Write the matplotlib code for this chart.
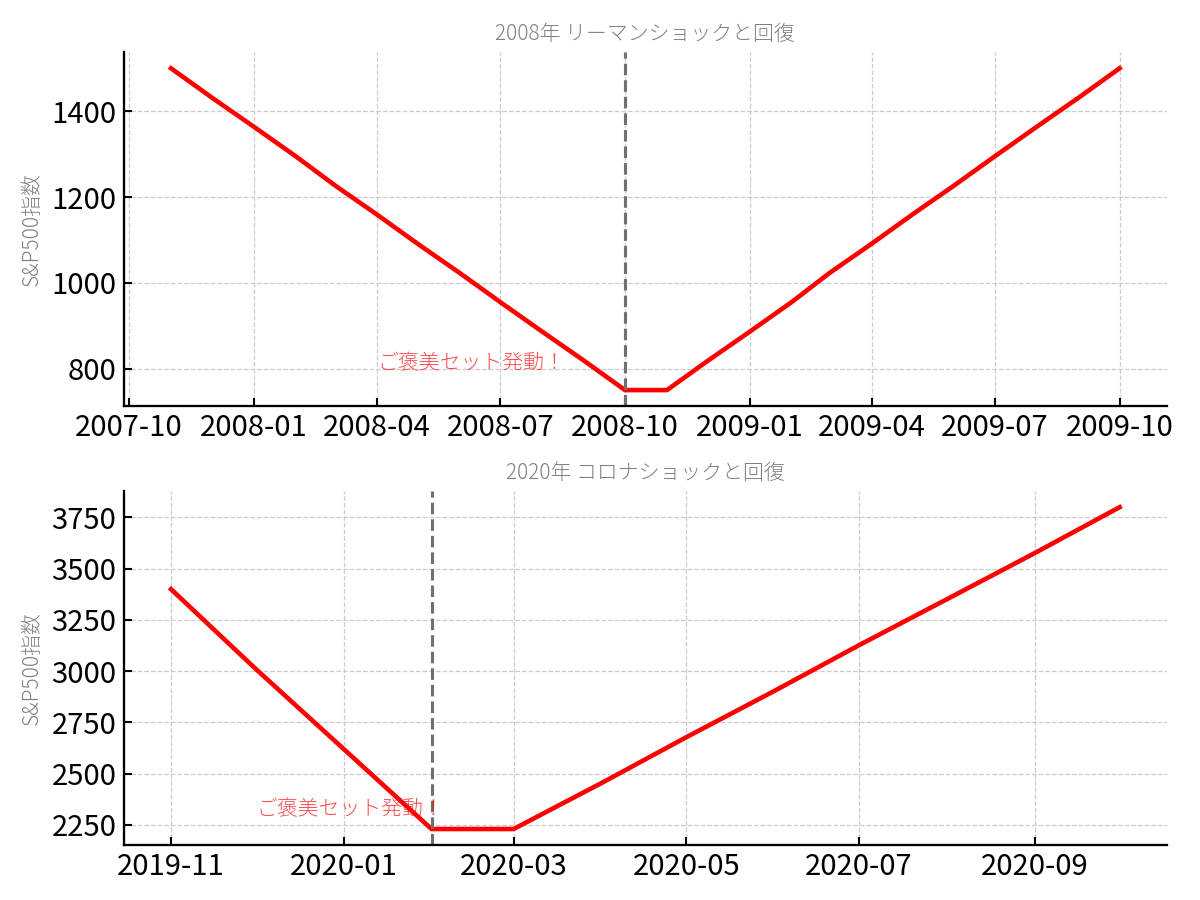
import pandas as pd
import matplotlib
matplotlib.use('Agg')
import matplotlib.pyplot as plt
import matplotlib.dates as mdates
from matplotlib.ticker import MultipleLocator

plt.rcParams['font.family'] = ['Noto Sans CJK JP', 'DejaVu Sans']

# 2008 Lehman shock (monthly)
dates_2008 = pd.date_range('2007-11-01', '2009-10-01', freq='MS')
sp_2008 = [1500, 1432, 1364, 1295, 1227, 1159, 1091, 1023, 955, 886, 818, 750,
           750, 818, 886, 955, 1023, 1091, 1159, 1227, 1295, 1364, 1432, 1500]
trigger_2008 = pd.Timestamp('2008-10-01')
text_pos_2008 = (pd.Timestamp('2008-04-01'), 800)

# 2020 corona shock (monthly)
dates_2020 = pd.date_range('2019-11-01', '2020-10-01', freq='MS')
sp_2020 = [3400, 3010, 2620, 2230, 2230, 2454, 2678, 2903, 3127, 3351, 3576, 3800]
trigger_2020 = pd.Timestamp('2020-02-01')
text_pos_2020 = (pd.Timestamp('2019-12-01'), 2300)

titles = ['2008年 リーマンショックと回復', '2020年 コロナショックと回復']
ylabel = 'S&P500指数'
note = 'ご褒美セット発動！'

fig, axes = plt.subplots(2, 1, figsize=(8, 6), dpi=150)
fig.subplots_adjust(left=0.103, right=0.9725, top=0.942, bottom=0.061, hspace=0.24)

sets = [(dates_2008, sp_2008, trigger_2008, text_pos_2008, mdates.MonthLocator(bymonth=[1, 4, 7, 10]), 200),
        (dates_2020, sp_2020, trigger_2020, text_pos_2020, mdates.MonthLocator(bymonth=[1, 3, 5, 7, 9, 11]), 250)]

for ax, (d, v, trig, tpos, loc, ystep), title in zip(axes, sets, titles):
    ax.plot(d, v, color='red', lw=2.2)
    ax.axvline(trig, color='#707070', ls='--', lw=1.5)
    ax.text(tpos[0], tpos[1], note, color='red', alpha=0.7, fontsize=10, fontweight='light')
    ax.set_title(title, fontsize=10, color='gray', fontweight='light')
    ax.set_ylabel(ylabel, fontsize=10, color='gray', fontweight='light')
    ax.xaxis.set_major_locator(loc)
    ax.xaxis.set_major_formatter(mdates.DateFormatter('%Y-%m'))
    ax.yaxis.set_major_locator(MultipleLocator(ystep))
    ax.grid(True, ls='--', color='#cccccc', lw=0.6)
    ax.tick_params(labelsize=14, direction='in', length=4, width=1)
    for s in ['top', 'right']:
        ax.spines[s].set_visible(False)
    for s in ['left', 'bottom']:
        ax.spines[s].set_linewidth(1.1)

fig.savefig('out.png')
